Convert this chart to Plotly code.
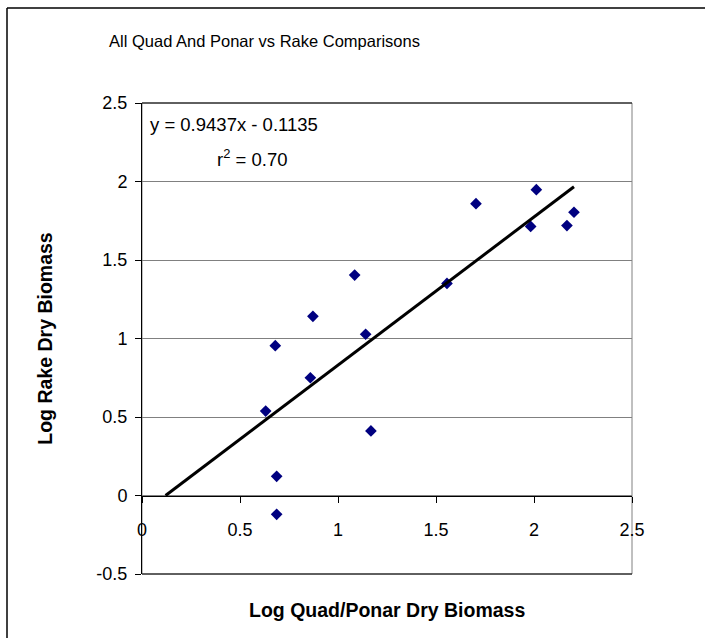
import plotly.graph_objects as go

# ---- data ----
quad_ponar = [1.085, 1.704, 2.012, 1.983, 1.556, 2.168, 2.204, 0.872, 0.680,
              1.141, 0.859, 0.631, 1.168, 0.687, 0.687]
rake = [1.404, 1.859, 1.948, 1.714, 1.351, 1.719, 1.804, 1.141, 0.954,
        1.027, 0.750, 0.538, 0.411, 0.122, -0.120]
slope = 0.9437
intercept = -0.1135
r2_text = "0.70"
trend_start_x = 0.1203  # trendline drawn back to y = 0
x_ticks = [0, 0.5, 1, 1.5, 2, 2.5]
y_ticks = [-0.5, 0, 0.5, 1, 1.5, 2, 2.5]

trend_x = [trend_start_x, max(quad_ponar)]
trend_y = [slope * v + intercept for v in trend_x]

FONT = "Liberation Sans, Arial, sans-serif"

fig = go.Figure()
fig.add_trace(go.Scatter(
    x=quad_ponar, y=rake, mode="markers",
    marker=dict(symbol="diamond", size=9, color="#000080"),
    showlegend=False, cliponaxis=False))
fig.add_trace(go.Scatter(
    x=trend_x, y=trend_y, mode="lines",
    line=dict(color="black", width=3),
    showlegend=False))

L, R, T, B = 142, 73, 103, 64
W, H = 705, 638
pw, ph = W - L - R, H - T - B


def px_x(p):
    return (p - L) / pw


def px_y(p):
    return (H - B - p) / ph


fig.update_layout(
    width=W, height=H,
    margin=dict(l=L, r=R, t=T, b=B),
    paper_bgcolor="white", plot_bgcolor="white",
    font=dict(family=FONT, color="black"),
    title=dict(text="All Quad And Ponar vs Rake Comparisons",
               xref="container", yref="container",
               x=264.5 / W, y=1 - 41 / H, xanchor="center", yanchor="middle",
               font=dict(family="Liberation Sans Narrow, Arial Narrow, Liberation Sans, Arial",
                         size=16.5, color="black")),
    xaxis=dict(range=[0, 2.5], tickvals=x_ticks, ticktext=[f"{v:g}" for v in x_ticks],
               anchor="free", position=1 / 6,
               showline=True, linecolor="black", linewidth=1,
               ticks="outside", ticklen=6, tickcolor="black", tickwidth=1,
               ticklabelstandoff=12,
               tickfont=dict(family=FONT, size=18, color="black"),
               showgrid=False, zeroline=False, fixedrange=True),
    yaxis=dict(range=[-0.5, 2.5], tickvals=y_ticks, ticktext=[f"{v:g}" for v in y_ticks],
               showline=True, linecolor="black", linewidth=1,
               ticks="outside", ticklen=6, tickcolor="black", tickwidth=1,
               ticklabelstandoff=4,
               tickfont=dict(family=FONT, size=18, color="black"),
               showgrid=True, gridcolor="#808080", gridwidth=1, zeroline=False,
               title=dict(text="<b>Log Rake Dry Biomass</b>", standoff=38,
                          font=dict(family=FONT, size=19.5, color="black")),
               automargin=False, fixedrange=True),
    shapes=[
        dict(type="rect", xref="paper", yref="paper", x0=0, y0=0, x1=1, y1=1,
             line=dict(color="#808080", width=1), layer="below"),
        dict(type="line", xref="paper", yref="paper", x0=0, y0=1, x1=1, y1=1,
             line=dict(color="black", width=1)),
        dict(type="line", xref="paper", yref="paper", x0=0, y0=0, x1=1, y1=0,
             line=dict(color="black", width=1)),
        dict(type="line", xref="paper", yref="paper",
             x0=px_x(7), y0=px_y(8), x1=px_x(720), y1=px_y(8),
             line=dict(color="black", width=1.5)),
        dict(type="line", xref="paper", yref="paper",
             x0=px_x(7), y0=px_y(8), x1=px_x(7), y1=px_y(660),
             line=dict(color="black", width=1.5)),
    ],
    annotations=[
        dict(text=f"y = {slope}x - {abs(intercept)}", xref="x", yref="y",
             x=0.03, y=2.36, xanchor="left", yanchor="middle", showarrow=False,
             font=dict(family=FONT, size=18.5, color="black")),
        dict(text=f"r<sup>2</sup> = {r2_text}", xref="x", yref="y",
             x=0.37, y=2.15, xanchor="left", yanchor="middle", showarrow=False,
             font=dict(family=FONT, size=18.5, color="black")),
        dict(text="<b>Log Quad/Ponar Dry Biomass</b>", xref="paper", yref="paper",
             x=px_x(387), y=px_y(610), xanchor="center", yanchor="middle",
             showarrow=False, font=dict(family=FONT, size=19.5, color="black")),
    ],
)

fig.write_html("out.html")
